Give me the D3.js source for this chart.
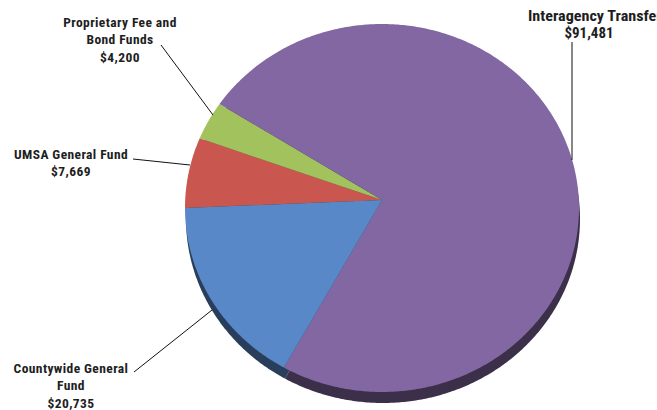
<!DOCTYPE html>
<html>
<head>
<meta charset="utf-8">
<script src="https://cdn.jsdelivr.net/npm/d3@7"></script>
<style>
html,body{margin:0;padding:0;background:#fff;overflow:hidden;}
svg{display:block;}
text{font-family:"Liberation Sans Narrow","Arial Narrow","Roboto Condensed","DejaVu Sans Condensed",sans-serif;font-weight:bold;font-size:13.5px;letter-spacing:0.4px;fill:#1e1e1e;}
</style>
</head>
<body>
<svg id="chart" width="657" height="410"></svg>
<script>
// Data (clockwise from the 9 o'clock position)
const categories = ["UMSA General Fund", "Proprietary Fee and Bond Funds", "Interagency Transfers", "Countywide General Fund"];
const values = [7669, 4200, 91481, 20735];
const labelLines = [
  ["UMSA General Fund", "$7,669"],
  ["Proprietary Fee and", "Bond Funds", "$4,200"],
  ["Interagency Transfers", "$91,481"],
  ["Countywide General", "Fund", "$20,735"]
];
const colors = ["#c9564f", "#a2c25e", "#8267a3", "#5888c8"];

// Layout
const W = 657, H = 410;
const cx = 382, cy = 208, rx = 197, ry = 184;
const vx = 382, vy = 200;       // apex of the slices (tilted view)
const depth = 11;

const svg = d3.select("#chart");

const pie = d3.pie().sort(null).value(d => d)
  .startAngle(1.5 * Math.PI).endAngle(3.5 * Math.PI);
const arcs = pie(values);

const ex = a => cx + rx * Math.sin(a);
const ey = a => cy - ry * Math.cos(a);

function slicePath(d, dy) {
  const p = d3.path();
  p.moveTo(vx, vy + dy);
  const n = Math.max(2, Math.ceil((d.endAngle - d.startAngle) / 0.01));
  d3.range(n + 1).forEach(i => {
    const a = d.startAngle + (d.endAngle - d.startAngle) * i / n;
    p.lineTo(ex(a), ey(a) + dy);
  });
  p.closePath();
  return p.toString();
}

// side wall / shadow
svg.append("g").selectAll("path").data(arcs).join("path")
  .attr("d", d => slicePath(d, depth))
  .attr("transform", "translate(1,0)")
  .attr("fill", (d, i) => d3.color(colors[i]).darker(2.2));

// top face
svg.append("g").selectAll("path").data(arcs).join("path")
  .attr("d", d => slicePath(d, 0))
  .attr("fill", (d, i) => colors[i]);

// labels
const labelPos = [
  {x: 71, y: 159, line: [[133, 159], [190, 165]]},
  {x: 120, y: 27, line: [[161, 45], [213, 115]]},
  {x: 589, y: 21, line: [[572, 42], [572, 160]]},
  {x: 71, y: 373, line: [[134, 372], [212, 310]]}
];
const lineH = 17.3;

const lg = svg.append("g");
labelLines.forEach((lines, i) => {
  const lp = labelPos[i];
  lg.append("path")
    .attr("d", d3.line()(lp.line))
    .attr("stroke", "#111").attr("stroke-width", 1).attr("fill", "none");
  const t = lg.append("text").attr("text-anchor", "middle");
  lines.forEach((s, j) => {
    const ts = t.append("tspan").attr("y", lp.y + j * lineH).text(s);
    if (i === 2) {
      // larger label; first line runs past the right edge, as in the reference
      ts.style("font-size", "15px").style("letter-spacing", "0px");
      if (j === 0) ts.attr("x", 528).attr("text-anchor", "start")
        .attr("textLength", 141).attr("lengthAdjust", "spacingAndGlyphs");
      else ts.attr("x", lp.x);
    } else {
      ts.attr("x", lp.x);
    }
  });
});
</script>
</body>
</html>
